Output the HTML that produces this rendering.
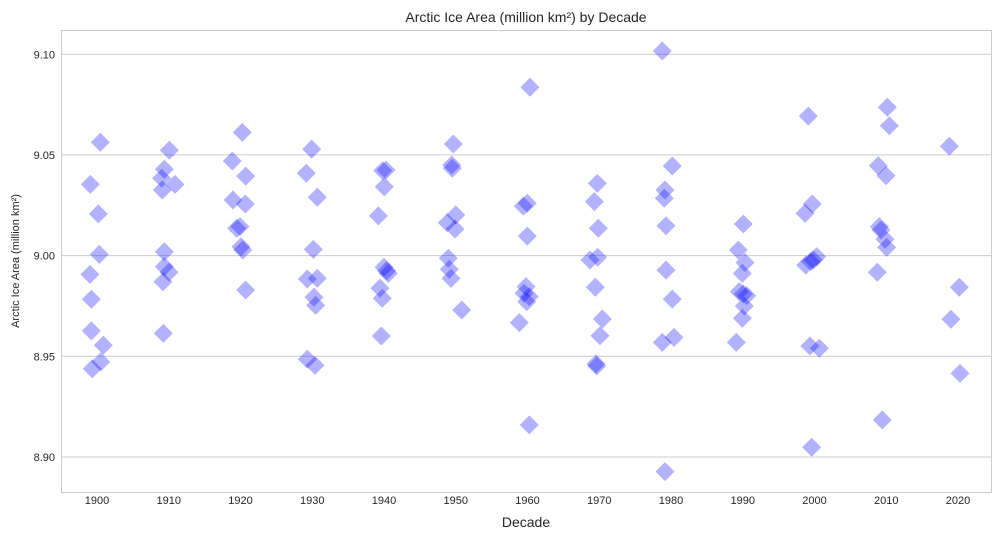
<!DOCTYPE html>
<html><head><meta charset="utf-8">
<style>
html,body{margin:0;padding:0;background:#fff;}
svg{display:block;font-family:"Liberation Sans","DejaVu Sans",sans-serif;}
</style></head>
<body>
<svg id="chart" width="1000" height="539" viewBox="0 0 1000 539">
<rect x="61.5" y="30.5" width="930" height="462" fill="#fff" stroke="#cccccc" stroke-width="1"/>
<g id="grid"></g>
<g id="xticks"></g>
<g id="yticks"></g>
<g id="points"></g>
<text x="526" y="22" text-anchor="middle" font-size="14" fill="#262626">Arctic Ice Area (million km²) by Decade</text>
<text x="526" y="527" text-anchor="middle" font-size="14" fill="#262626">Decade</text>
<text transform="translate(19,261) rotate(-90)" text-anchor="middle" font-size="11" fill="#262626">Arctic Ice Area (million km²)</text>
</svg>
<script>
const decades = [1900,1910,1920,1930,1940,1950,1960,1970,1980,1990,2000,2010,2020];
const yTicks = [8.90,8.95,9.00,9.05,9.10];
const pointDecade = [
1900,1900,1900,1900,1900,1900,1900,1900,1900,1900,
1910,1910,1910,1910,1910,1910,1910,1910,1910,1910,
1920,1920,1920,1920,1920,1920,1920,1920,1920,1920,
1930,1930,1930,1930,1930,1930,1930,1930,1930,1930,
1940,1940,1940,1940,1940,1940,1940,1940,1940,1940,
1950,1950,1950,1950,1950,1950,1950,1950,1950,1950,
1960,1960,1960,1960,1960,1960,1960,1960,1960,1960,
1970,1970,1970,1970,1970,1970,1970,1970,1970,1970,
1980,1980,1980,1980,1980,1980,1980,1980,1980,1980,
1990,1990,1990,1990,1990,1990,1990,1990,1990,1990,
2000,2000,2000,2000,2000,2000,2000,2000,2000,2000,
2010,2010,2010,2010,2010,2010,2010,2010,2010,2010,
2020,2020,2020,2020];
const jitterYears = [
0.46,-0.93,0.18,0.32,-0.98,-0.79,-0.79,0.88,0.52,-0.66,
0.08,-0.62,-0.98,0.87,-0.90,-0.62,-0.62,0.03,-0.80,-0.76,
0.25,-1.14,0.72,-1.05,0.67,-0.07,-0.53,0.07,0.31,0.72,
-0.08,-0.83,0.70,0.15,-0.69,0.70,0.24,0.48,-0.69,0.38,
-0.18,0.28,0.04,-0.79,0,0.38,0.60,-0.56,-0.24,-0.38,
-0.34,-0.56,-0.48,0,-1.18,-0.10,-1.04,-0.90,-0.66,0.83,
0.35,-0.03,-0.59,-0.03,-0.21,-0.49,0.25,-0.11,-1.14,0.25,
-0.27,-0.69,-0.13,-1.29,-0.22,-0.55,0.43,0.10,-0.45,-0.36,
-1.21,0.18,-0.84,-0.93,-0.70,-0.70,0.18,0.42,-1.21,-0.84,
0.08,-0.62,0.31,-0.06,-0.48,0.08,0.55,0.22,-0.06,-0.90,
-0.86,-0.31,-1.32,0.31,-0.17,-0.53,-1.23,-0.63,0.67,-0.39,
0.15,0.43,-1.11,-0.03,-0.97,-0.73,-0.17,0.06,-1.25,-0.55,
-1.21,0.18,-0.98,0.28];
const iceArea = [
9.0563,9.0354,9.0207,9.0006,8.9907,8.9783,8.9626,8.9555,8.9472,8.9438,
9.0523,9.0429,9.0384,9.0354,9.0326,9.0019,8.9945,8.9917,8.9870,8.9614,
9.0612,9.0470,9.0395,9.0276,9.0256,9.0144,9.0136,9.0044,9.0028,8.9829,
9.0529,9.0409,9.0290,9.0031,8.9884,8.9887,8.9793,8.9753,8.9485,8.9455,
9.0422,9.0425,9.0342,9.0197,8.9942,8.9925,8.9912,8.9838,8.9788,8.9601,
9.0554,9.0450,9.0434,9.0202,9.0163,9.0132,8.9987,8.9932,8.9887,8.9730,
9.0836,9.0260,9.0246,9.0097,8.9846,8.9813,8.9796,8.9771,8.9667,8.9159,
9.0359,9.0268,9.0136,8.9978,8.9992,8.9843,8.9685,8.9602,8.9462,8.9452,
9.1016,9.0445,9.0326,9.0285,9.0148,8.9928,8.9784,8.9594,8.9569,8.8927,
9.0157,9.0028,8.9965,8.9912,8.9821,8.9809,8.9801,8.9750,8.9689,8.9569,
9.0693,9.0256,9.0210,8.9995,8.9978,8.9970,8.9953,8.9551,8.9540,8.9048,
9.0737,9.0645,9.0446,9.0397,9.0144,9.0127,9.0081,9.0041,8.9917,8.9184,
9.0543,8.9843,8.9684,8.9415];

const NS='http://www.w3.org/2000/svg';
function xScale(year){ return 97 + (year-1900)*7.175; }
function yScale(v){ return 255.6 - (v-9.0)*2013.5; }
function mk(tag, attrs){ const e=document.createElementNS(NS,tag); for(const k in attrs) e.setAttribute(k,attrs[k]); return e; }

const grid=document.getElementById('grid');
const xt=document.getElementById('xticks');
const yt=document.getElementById('yticks');
const pts=document.getElementById('points');

yTicks.forEach(t=>{
  const y=yScale(t);
  const l=mk('line',{x1:62,x2:991,y1:y,y2:y,stroke:'#cccccc','stroke-width':1});
  
  
  grid.appendChild(l);
  const tx=mk('text',{x:55,y:y+4,'text-anchor':'end','font-size':11,fill:'#262626'});
  
  
  tx.textContent=t.toFixed(2);
  yt.appendChild(tx);
});
decades.forEach(d=>{
  const x=xScale(d);
  const tx=mk('text',{x:x,y:504,'text-anchor':'middle','font-size':11,fill:'#262626'});
  
  
  tx.textContent=String(d);
  xt.appendChild(tx);
});
const r=9.5;
iceArea.forEach((v,i)=>{
  const cx=xScale(pointDecade[i]+jitterYears[i]);
  const cy=yScale(v);
  const p=mk('polygon',{points:`${cx},${cy-r} ${cx+r},${cy} ${cx},${cy+r} ${cx-r},${cy}`,fill:'#0000ff','fill-opacity':0.3});
  
  
  pts.appendChild(p);
});
</script>
</body></html>
